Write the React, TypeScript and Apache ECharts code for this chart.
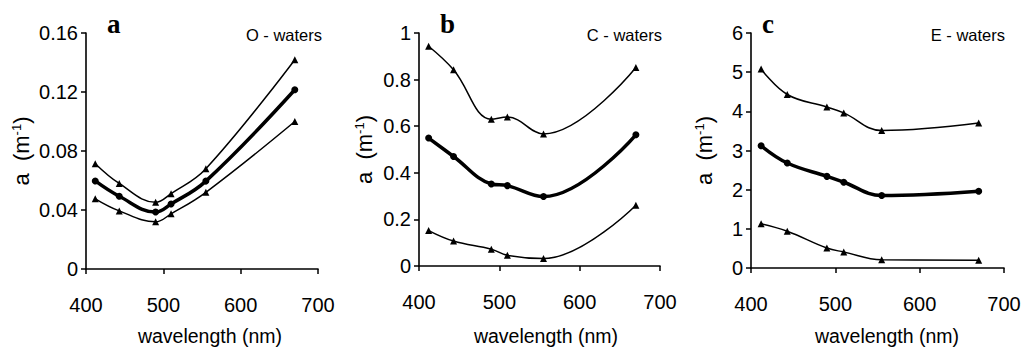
import React, { useEffect, useRef } from "react";
import * as echarts from "echarts";

// Wavelengths (nm), SeaWiFS bands
const wavelengths = [412, 443, 490, 510, 555, 670];

// Panel a: O - waters (m^-1)
const oMax = [0.0714, 0.058, 0.0452, 0.0511, 0.068, 0.1419];
const oMean = [0.0597, 0.0493, 0.0386, 0.0441, 0.0596, 0.1215];
const oMin = [0.0476, 0.0394, 0.032, 0.0374, 0.052, 0.1];

// Panel b: C - waters
const cMax = [0.943, 0.842, 0.63, 0.639, 0.567, 0.852];
const cMean = [0.549, 0.47, 0.352, 0.345, 0.298, 0.563];
const cMin = [0.152, 0.107, 0.072, 0.046, 0.032, 0.261];

// Panel c: E - waters
const eMax = [5.08, 4.43, 4.11, 3.96, 3.51, 3.7];
const eMean = [3.12, 2.68, 2.34, 2.19, 1.85, 1.96];
const eMin = [1.13, 0.94, 0.51, 0.41, 0.21, 0.2];

const panelLetters = ["a", "b", "c"];
const panelLabels = ["O - waters", "C - waters", "E - waters"];
const yMaxes = [0.16, 1, 6];
const yIntervals = [0.04, 0.2, 1];
const xMin = 400;
const xMax = 700;
const xInterval = 100;
const xName = "wavelength (nm)";
const yName = "a  (m{sup|-1})";

const panelData = [
  [oMax, oMean, oMin],
  [cMax, cMean, cMin],
  [eMax, eMean, eMin],
];

const FONT = "'Liberation Sans Narrow', 'Arial Narrow', 'Liberation Sans', Arial, sans-serif";
const SERIF = "'Liberation Serif', 'Times New Roman', serif";

const grids = [
  { left: 86, top: 33, width: 232, height: 236 },
  { left: 419, top: 33, width: 241, height: 233 },
  { left: 751, top: 33, width: 253, height: 235 },
];
const yNameGaps = [54, 44, 36];
const xNameCenters = [210, 546, 887];
const letterPos = [
  { x: 107, y: 24 },
  { x: 440, y: 24 },
  { x: 762, y: 24 },
];
const labelRight = [322, 662, 1005];

export default function App() {
  const ref = useRef<HTMLDivElement>(null);

  useEffect(() => {
    if (!ref.current) return;
    const chart = echarts.init(ref.current, null, { renderer: "svg" });

    const xAxes = grids.map((_, i) => ({
      type: "value",
      gridIndex: i,
      min: xMin,
      max: xMax,
      interval: xInterval,
      axisLine: { show: true, onZero: false, lineStyle: { color: "#000", width: 1.6 } },
      axisTick: { show: true, inside: false, length: 5, lineStyle: { color: "#000", width: 1.5 } },
      axisLabel: { fontFamily: FONT, fontSize: 20, color: "#000", margin: 26 },
      splitLine: { show: false },
    }));

    const yAxes = grids.map((_, i) => ({
      type: "value",
      gridIndex: i,
      min: 0,
      max: yMaxes[i],
      interval: yIntervals[i],
      name: yName,
      nameLocation: "middle",
      nameRotate: 90,
      nameGap: yNameGaps[i],
      nameTextStyle: {
        fontFamily: FONT,
        fontSize: 22,
        color: "#000",
        rich: {
          sup: { fontFamily: FONT, fontSize: 13, color: "#000", verticalAlign: "top" },
        },
      },
      axisLine: { show: true, onZero: false, lineStyle: { color: "#000", width: 1.6 } },
      axisTick: { show: true, inside: false, length: 5, lineStyle: { color: "#000", width: 1.5 } },
      axisLabel: { fontFamily: FONT, fontSize: 20, color: "#000", margin: 8 },
      splitLine: { show: false },
    }));

    const series: any[] = [];
    panelData.forEach((sets, p) => {
      sets.forEach((vals, k) => {
        const isMean = k === 1;
        series.push({
          type: "line",
          xAxisIndex: p,
          yAxisIndex: p,
          smooth: 0.4,
          data: wavelengths.map((w, j) => [w, vals[j]]),
          symbol: isMean ? "circle" : "triangle",
          symbolSize: 7,
          showSymbol: true,
          lineStyle: { color: "#000", width: isMean ? 3.5 : 1.5 },
          itemStyle: { color: "#000" },
          z: isMean ? 3 : 2,
        });
      });
    });

    const graphics: any[] = [];
    panelLetters.forEach((t, i) => {
      graphics.push({
        type: "text",
        x: letterPos[i].x,
        y: letterPos[i].y,
        style: {
          text: t,
          font: `bold 27px ${SERIF}`,
          fill: "#000",
          align: "left",
          verticalAlign: "middle",
        },
      });
    });
    panelLabels.forEach((t, i) => {
      graphics.push({
        type: "text",
        x: labelRight[i],
        y: 35,
        style: {
          text: t,
          font: `16.5px ${FONT}`,
          fill: "#000",
          align: "right",
          verticalAlign: "middle",
        },
      });
    });
    xNameCenters.forEach((cx) => {
      graphics.push({
        type: "text",
        x: cx,
        y: 326,
        style: {
          text: xName,
          font: `19.5px ${FONT}`,
          fill: "#000",
          align: "center",
          verticalAlign: "top",
        },
      });
    });

    chart.setOption({
      animation: false,
      backgroundColor: "#fff",
      grid: grids.map((g) => ({ ...g, containLabel: false })),
      xAxis: xAxes,
      yAxis: yAxes,
      series,
      graphic: graphics,
    });

    return () => chart.dispose();
  }, []);

  return (
    <div
      ref={ref}
      style={{ position: "absolute", left: 0, top: 0, width: 1026, height: 352, background: "#fff" }}
    />
  );
}
